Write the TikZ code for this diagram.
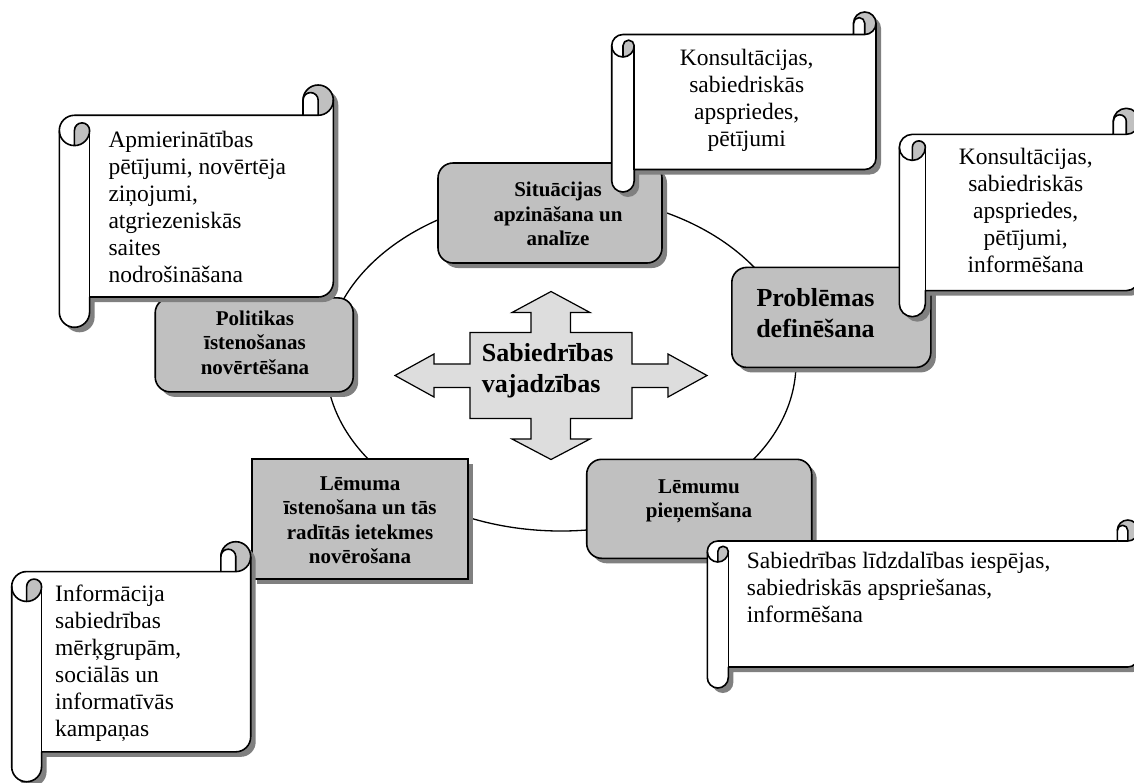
\documentclass[tikz,border=0pt]{standalone}
\usepackage{fontspec}
\setmainfont{Liberation Serif}
\usetikzlibrary{shadows}
\definecolor{boxgray}{HTML}{C0C0C0}
\definecolor{shadowgray}{HTML}{808080}
\definecolor{crossgray}{HTML}{DDDDDD}
\tikzset{
  scrollline/.style={draw=black,line width=1.6pt,line join=round},
  scrolltext/.style={inner sep=0pt,font=\fontsize{23.5}{27}\selectfont},
  boxtext/.style={inner sep=0pt,font=\bfseries\fontsize{21}{24.5}\selectfont,align=center},
  bigtext/.style={inner sep=0pt,font=\bfseries\fontsize{26}{30.5}\selectfont},
  stagebox/.style={draw=black,line width=1.6pt,fill=boxgray,inner sep=0pt,
    drop shadow={shadow xshift=5pt,shadow yshift=-5pt,opacity=1,fill=shadowgray}},
  scrollout/.style={insert path={
    (0,{-1.5*\ch}) arc[start angle=180,end angle=90,radius=\cc]
    -- ({\sw-\ch},{-\ch}) -- ({\sw-\ch},{-\cc})
    arc[start angle=180,end angle=0,radius=\cc]
    -- (\sw,{-\sh+1.5*\ch})
    arc[start angle=0,end angle=-90,radius=\cc]
    -- (\ch,{-\sh+\ch}) -- (\ch,{-\sh+\cc})
    arc[start angle=0,end angle=-180,radius=\cc]
    -- cycle}}
}
% #1 left, #2 top (pixel, y down), #3 width, #4 height
\newcommand\drawscroll[4]{%
  \pgfmathsetmacro\sw{#3}\pgfmathsetmacro\sh{#4}%
  \pgfmathsetmacro\ch{0.125*min(#3,#4)}%
  \pgfmathsetmacro\cc{0.5*\ch}\pgfmathsetmacro\cq{0.25*\ch}%
  \begin{scope}[shift={({#1+5},{-#2-5})}]
    \fill[shadowgray] [scrollout];
  \end{scope}
  \begin{scope}[shift={(#1,{-#2})}]
    \fill[white] [scrollout];
    \fill[boxgray] ({\sw-\cc},{-\cc}) circle[radius=\cc];
    \fill[white] ({\sw-\ch},{-\cc}) -- ({\sw-\ch},{-\ch}) -- ({\sw-\cc},{-\ch}) -- ({\sw-\cc},{-\cc})
      arc[start angle=0,end angle=180,radius=\cq] -- cycle;
    \fill[boxgray] (\cc,{-2*\ch}) -- (\cc,{-1.5*\ch}) arc[start angle=180,end angle=0,radius=\cq]
      arc[start angle=0,end angle=-90,radius=\cc] -- cycle;
    \draw[scrollline] [scrollout];
    \draw[scrollline] ({\sw-\ch},{-\ch}) -- ({\sw-\cc},{-\ch}) arc[start angle=-90,end angle=0,radius=\cc];
    \draw[scrollline] ({\sw-\cc},{-\ch}) -- ({\sw-\cc},{-\cc}) arc[start angle=0,end angle=180,radius=\cq];
    \draw[scrollline] (\cc,{-2*\ch}) -- (\cc,{-1.5*\ch}) arc[start angle=180,end angle=0,radius=\cq]
      arc[start angle=0,end angle=-180,radius=\cc];
    \draw[scrollline] (\ch,{-1.5*\ch}) -- (\ch,{-\sh+\ch});
  \end{scope}}
\begin{document}
\begin{tikzpicture}[x=1pt,y=1pt]
\clip (0,0) rectangle (1134,-782);
\fill[white] (0,0) rectangle (1134,-782);

% cycle ellipse
\draw[line width=1.3pt] (561,-363) ellipse[x radius=235, y radius=168];

% stage boxes (text anchored at the baseline of the last line)
\node[stagebox,rounded corners=15pt,minimum width=224pt,minimum height=100pt] (sit) at (550,-213) {};
\node[boxtext,anchor=base] (sittxt) at (558,-245.7) {Situācijas\\apzināšana un\\analīze};

\node[stagebox,rounded corners=15pt,minimum width=199pt,minimum height=100pt] (prob) at (831.3,-317.4) {};
\node[bigtext,align=center,anchor=base] (probtxt) at (815.5,-337) {Problēmas\\definēšana};

\node[stagebox,rounded corners=15pt,minimum width=198pt,minimum height=94pt] (pol) at (254.2,-344.9) {};
\node[boxtext,anchor=base] (poltxt) at (255,-374) {Politikas\\īstenošanas\\novērtēšana};

\node[stagebox,minimum width=216pt,minimum height=120pt] (ist) at (359.7,-519.2) {};
\node[boxtext,anchor=base] (isttxt) at (360,-563.5) {Lēmuma\\īstenošana un tās\\radītās ietekmes\\novērošana};

\node[stagebox,rounded corners=15pt,minimum width=225pt,minimum height=99pt] (lem) at (699.2,-508.8) {};
\node[boxtext,anchor=base] (lemtxt) at (699,-517.8) {Lēmumu\\pieņemšana};

% central four-way arrow
\draw[line width=1.2pt,fill=crossgray,line join=miter]
  (551,-291.5) -- (590,-312.5) -- (570.5,-312.5) -- (570.5,-332.5) -- (632,-332.5)
  -- (632,-364) -- (668,-364) -- (668,-354) -- (707,-375.5) -- (668,-397) -- (668,-387.5)
  -- (632,-387.5) -- (632,-418.5) -- (570.5,-418.5) -- (570.5,-439) -- (590,-439)
  -- (551,-459.5) -- (512,-439) -- (531,-439) -- (531,-418.5) -- (470,-418.5)
  -- (470,-387.5) -- (434,-387.5) -- (434,-397) -- (395,-375.5) -- (434,-354)
  -- (434,-364) -- (470,-364) -- (470,-332.5) -- (531,-332.5) -- (531,-312.5)
  -- (512,-312.5) -- cycle;
\node[bigtext,align=left,anchor=base west] (need) at (481.7,-392.2) {Sabiedrības\\vajadzības};

% scrolls
\drawscroll{611.7}{12}{264.3}{180}
\node[scrolltext,align=center,anchor=base] (s1) at (746.7,-146.7) {Konsultācijas,\\sabiedriskās\\apspriedes,\\pētījumi};

\drawscroll{59.3}{85}{274}{242.3}
\node[scrolltext,align=left,anchor=base west] (s2) at (108.3,-282.7) {Apmierinātības\\pētījumi, novērtēja\\ziņojumi,\\atgriezeniskās\\saites\\nodrošināšana};

\drawscroll{899.3}{108.3}{240}{208.4}
\node[scrolltext,align=center,anchor=base] (s3) at (1025.7,-272) {Konsultācijas,\\sabiedriskās\\apspriedes,\\pētījumi,\\informēšana};

\drawscroll{707.3}{520}{431}{168}
\node[scrolltext,align=left,anchor=base west] (s4) at (746.7,-622.3) {Sabiedrības līdzdalības iespējas,\\sabiedriskās apspriešanas,\\informēšana};

\drawscroll{11.7}{541.7}{239}{240}
\node[scrolltext,align=left,anchor=base west] (s5) at (55,-736) {Informācija\\sabiedrības\\mērķgrupām,\\sociālās un\\informatīvās\\kampaņas};
\end{tikzpicture}
\end{document}
